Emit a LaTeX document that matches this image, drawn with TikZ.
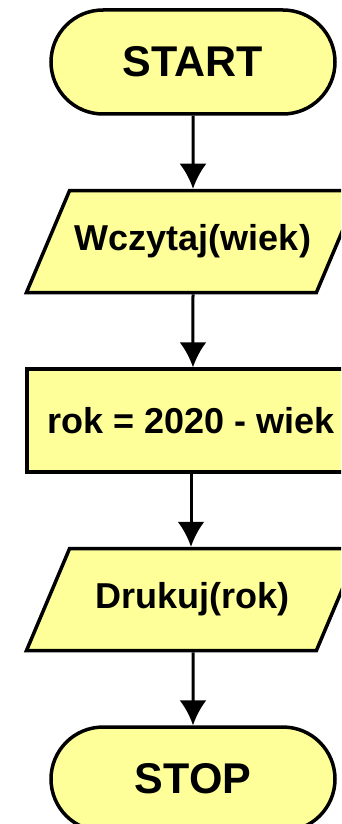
\documentclass[tikz,border=0pt]{standalone}
\usepackage{fontspec}
\setmainfont{Liberation Sans}
\usepackage{xcolor}
\usepackage{tikz}
\usetikzlibrary{arrows.meta}
\usetikzlibrary{positioning}
\usetikzlibrary{shapes.geometric}

\definecolor{flowyellow}{HTML}{FFFF99}
\newcommand{\termfont}{\fontsize{43pt}{43pt}\selectfont\bfseries}
\newcommand{\boxfont}{\fontsize{36pt}{36pt}\selectfont\bfseries}

\begin{document}
\begin{tikzpicture}
[
	block/.style	= {draw = black, fill = flowyellow, line width = 3.5pt, inner sep = 0pt},
	term/.style	= {block, rectangle, rounded corners = 52pt, minimum width = 284pt, minimum height = 104pt, font = \termfont},
	io/.style	= {block, trapezium, trapezium stretches body = true, trapezium left angle = 67, trapezium right angle = 113, inner ysep = 34pt, minimum width = 333pt, minimum height = 102pt, font = \boxfont},
	proc/.style	= {block, rectangle, minimum width = 328pt, minimum height = 103pt, font = \boxfont},
	flow/.style	= {-{Latex[length = 25pt, width = 27pt]}, line width = 3pt},
	node distance = 73pt,
]

	\useasboundingbox (0,0) rectangle (341pt,-824pt);
	\clip (0,0) rectangle (341pt,-824pt);

	\node (start) [term] at (193pt,-62pt) {START};
	\node (read) [io, below = of start] {Wczytaj(wiek)};
	\node (calc) [proc, below = of read, xshift = -2pt] {rok = 2020 - wiek};
	\node (print) [io, below = of calc, xshift = 2pt] {Drukuj(rok)};
	\node (stop) [term, below = of print] {STOP};

	\draw [flow] (start) -- (read);
	\draw [flow] (read) -- (read |- calc.north);
	\draw [flow] (calc) -- (calc |- print.north);
	\draw [flow] (print) -- (stop);

\end{tikzpicture}
\end{document}
